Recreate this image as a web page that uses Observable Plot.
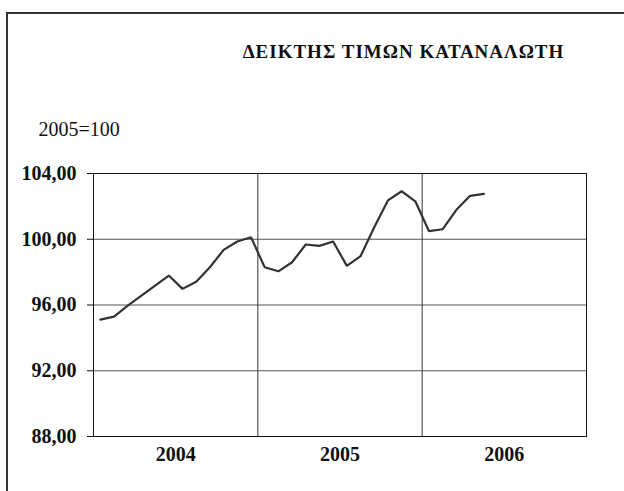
<!DOCTYPE html>
<html>
<head>
<meta charset="utf-8">
<script src="https://cdn.jsdelivr.net/npm/d3@7"></script>
<script src="https://cdn.jsdelivr.net/npm/@observablehq/plot@0.6"></script>
<style>
  html, body { margin: 0; padding: 0; background: #fff; }
  #wrap { position: relative; width: 624px; height: 491px; overflow: hidden; font-family: "Liberation Serif", "Times New Roman", serif; }
  #border { position: absolute; left: 6px; top: 12px; width: 700px; height: 600px; border-left: 2px solid #333; border-top: 2px solid #333; }
  #chart { position: absolute; left: 0; top: 0; }
  #chart svg text { font-family: "Liberation Serif", "Times New Roman", serif; }
</style>
</head>
<body>
<div id="wrap">
  <div id="border"></div>
  <div id="chart"></div>
</div>
<script>
const title = "ΔΕΙΚΤΗΣ ΤΙΜΩΝ ΚΑΤΑΝΑΛΩΤΗ";
const subtitle = "2005=100";
const years = ["2004", "2005", "2006"];
const yTicks = [88, 92, 96, 100, 104];
// Monthly index, Jan 2004 – May 2006
const values = [
  95.11, 95.29, 95.96, 96.57, 97.18, 97.79, 96.98, 97.42, 98.30, 99.35, 99.86, 100.12,
  98.30, 98.05, 98.60, 99.68, 99.60, 99.86, 98.38, 98.97, 100.73, 102.36, 102.92, 102.31,
  100.49, 100.61, 101.79, 102.64, 102.76
];

const data = values.map((v, i) => ({ m: i + 0.5, v }));
const yearPos = years.map((y, i) => ({ pos: i * 12 + 6, label: y }));
const boundaries = years.slice(1).map((y, i) => (i + 1) * 12);
const fmt = d => d.toFixed(2).replace(".", ",");
const serif = "'Liberation Serif', 'Times New Roman', serif";

const plot = Plot.plot({
  width: 624,
  height: 491,
  marginLeft: 93,
  marginRight: 38,
  marginTop: 173,
  marginBottom: 55,
  style: { fontFamily: serif, background: "transparent", overflow: "visible" },
  x: { domain: [0, years.length * 12] },
  y: { domain: [88, 104] },
  marks: [
    Plot.ruleY(yTicks.slice(1, -1), { stroke: "#555", strokeWidth: 1, strokeOpacity: 1 }),
    Plot.ruleX(boundaries, { stroke: "#333", strokeWidth: 1 }),
    Plot.frame({ stroke: "#111", strokeWidth: 1 }),
    Plot.axisY({
      ticks: yTicks, tickFormat: fmt, tickSize: 6, tickPadding: 11,
      fontSize: 20, fontWeight: "bold", fontFamily: serif, fill: "#111", stroke: "#111", label: null
    }),
    Plot.axisX({
      ticks: yearPos.map(d => d.pos), tickFormat: d => yearPos.find(p => p.pos === d).label,
      tickSize: 0, tickPadding: 10, fontSize: 20, fontWeight: "bold", fontFamily: serif, fill: "#111", label: null
    }),
    Plot.line(data, { x: "m", y: "v", stroke: "#333", strokeWidth: 2.2, strokeLinejoin: "miter" }),
    Plot.text([title], {
      frameAnchor: "top-left", dx: 310, dy: -116, lineAnchor: "bottom", textAnchor: "middle",
      fontSize: 19, fontWeight: "bold", fontFamily: serif, fill: "#111"
    }),
    Plot.text([subtitle], {
      frameAnchor: "top-left", dx: -55, dy: -38, lineAnchor: "bottom", textAnchor: "start",
      fontSize: 20, fontFamily: serif, fill: "#111"
    })
  ]
});
d3.select(plot).selectAll("text").filter(function () { return this.textContent === title; })
  .style("letter-spacing", "1px");
document.getElementById("chart").appendChild(plot);
</script>
</body>
</html>
